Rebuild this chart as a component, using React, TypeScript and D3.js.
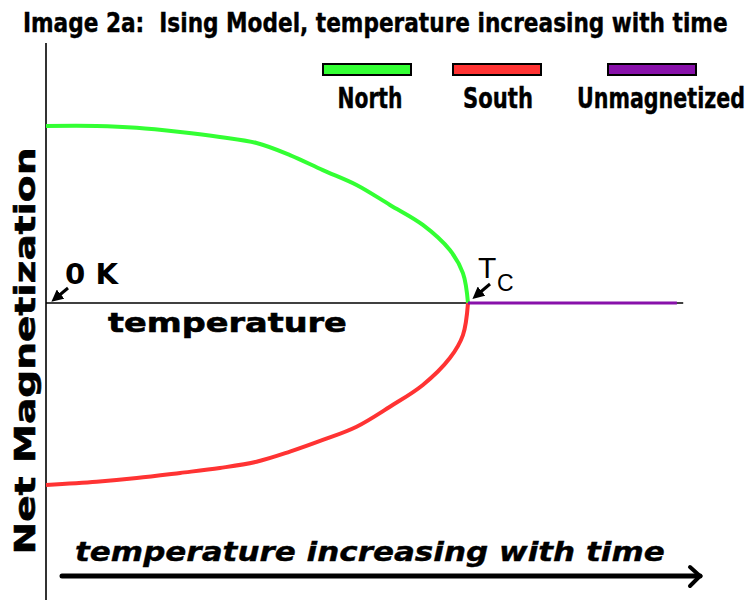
import React, { useLayoutEffect, useRef, useState } from "react";
import * as d3 from "d3";

const northTemps = [0, 0.12, 0.215, 0.318, 0.412, 0.499, 0.578, 0.656, 0.736, 0.815, 0.893, 0.957, 0.988, 1.0];
const northMag = [1.0, 1.0, 0.99, 0.966, 0.938, 0.904, 0.836, 0.751, 0.667, 0.554, 0.441, 0.299, 0.169, 0.0];
const southTemps = [0, 0.12, 0.215, 0.318, 0.412, 0.499, 0.578, 0.656, 0.736, 0.815, 0.893, 0.957, 0.988, 1.0];
const southMag = [-1.028, -1.01, -0.989, -0.96, -0.932, -0.897, -0.84, -0.774, -0.699, -0.586, -0.463, -0.311, -0.181, 0.0];
const unmagTemps = [1.0, 1.495];
const unmagMag = [0, 0];

const seriesNames = ["North", "South", "Unmagnetized"];
const seriesColors = ["#33ff33", "#ff3333", "#8811aa"];

type FitProps = {
  x: number;
  y: number;
  width: number;
  anchor?: "start" | "middle";
  rotate?: number;
  children: string;
  [k: string]: any;
};

function FitText({ x, y, width, anchor = "start", rotate = 0, children, ...rest }: FitProps) {
  const ref = useRef<SVGTextElement>(null);
  const [sx, setSx] = useState(1);
  useLayoutEffect(() => {
    if (ref.current) {
      const w = ref.current.getComputedTextLength();
      if (w > 0) setSx(width / w);
    }
  }, [width, children]);
  return (
    <g transform={`translate(${x},${y}) rotate(${rotate}) scale(${sx},1)`}>
      <text ref={ref} x={0} y={0} textAnchor={anchor} fill="#000" {...rest}>
        {children}
      </text>
    </g>
  );
}

export default function App() {
  const x = d3.scaleLinear().domain([0, 1]).range([46, 468]);
  const y = d3.scaleLinear().domain([0, 1]).range([303, 126]);
  const line = d3
    .line<[number, number]>()
    .x((d) => x(d[0]))
    .y((d) => y(d[1]))
    .curve(d3.curveCatmullRom.alpha(0.5));
  const north = northTemps.map((t, i) => [t, northMag[i]] as [number, number]);
  const south = southTemps.map((t, i) => [t, southMag[i]] as [number, number]);
  const unmag = unmagTemps.map((t, i) => [t, unmagMag[i]] as [number, number]);

  const swatchX = [323, 453, 608];
  const labelX = [370, 498, 661];
  const labelLen = [65, 70, 168];

  const boldFont = "'DejaVu Sans', Verdana, sans-serif";
  const narrow = "'DejaVu Sans Condensed', 'Liberation Sans Narrow', 'Liberation Sans', Arial, sans-serif";

  return (
    <svg width={754} height={600} style={{ position: "absolute", left: 0, top: 0, background: "#fff" }}>
      <defs>
        <marker id="ah" viewBox="0 0 10 10" refX="5" refY="5" markerWidth="4" markerHeight="4" orient="auto-start-reverse">
          <path d="M0,0 L10,5 L0,10 z" fill="#000" />
        </marker>
      </defs>
      <rect x={0} y={0} width={754} height={600} fill="#fff" />
      {/* Title */}
      <FitText x={23} y={32} width={705} fontFamily={narrow} fontWeight="bold" fontSize={27} stroke="#000" strokeWidth={0.4} style={{ whiteSpace: "pre" }}>
        {"Image 2a:  Ising Model, temperature increasing with time"}
      </FitText>

      {/* Legend */}
      {seriesNames.map((n, i) => (
        <g key={n}>
          <rect x={swatchX[i]} y={64} width={88} height={11} fill={seriesColors[i]} stroke="#000" strokeWidth={2} />
          <FitText x={labelX[i]} y={108} width={labelLen[i]} anchor="middle" fontFamily={narrow} fontWeight="bold" fontSize={28} stroke="#000" strokeWidth={0.4}>
            {n}
          </FitText>
        </g>
      ))}

      {/* Axes */}
      <line x1={46} y1={43} x2={46} y2={600} stroke="#333" strokeWidth={2} />
      <line x1={46} y1={y(0)} x2={x(1.51)} y2={y(0)} stroke="#000" strokeWidth={1.5} />

      {/* Curves */}
      <path d={line(north) || ""} fill="none" stroke={seriesColors[0]} strokeWidth={4} />
      <path d={line(south) || ""} fill="none" stroke={seriesColors[1]} strokeWidth={4} />
      <path d={line(unmag) || ""} fill="none" stroke={seriesColors[2]} strokeWidth={3} />

      {/* 0 K annotation */}
      <FitText x={65} y={284} width={53} fontFamily={boldFont} fontWeight="bold" fontSize={29}>
        0 K
      </FitText>
      <line x1={68} y1={288} x2={56} y2={298} stroke="#000" strokeWidth={3} markerEnd="url(#ah)" />

      {/* Tc annotation */}
      <text x={478} y={278} fontFamily="'Liberation Sans', Arial, sans-serif" fontSize={30} fill="#000">T</text>
      <text x={497} y={291} fontFamily="'Liberation Sans', Arial, sans-serif" fontSize={23} fill="#000">C</text>
      <line x1={490} y1={284} x2={477} y2={295} stroke="#000" strokeWidth={3} markerEnd="url(#ah)" />

      {/* temperature label */}
      <FitText x={108} y={332} width={239} fontFamily={boldFont} fontWeight="bold" fontSize={27} stroke="#000" strokeWidth={0.6}>
        temperature
      </FitText>

      {/* Y label */}
      <FitText x={35} y={351} width={407} rotate={-90} anchor="middle" fontFamily={boldFont} fontWeight="bold" fontSize={29} stroke="#000" strokeWidth={0.6}>
        Net Magnetization
      </FitText>

      {/* bottom label and arrow */}
      <FitText x={75} y={561} width={590} fontFamily={boldFont} fontWeight="bold" fontStyle="italic" fontSize={27} stroke="#000" strokeWidth={0.4}>
        temperature increasing with time
      </FitText>
      <line x1={62} y1={576} x2={700} y2={576} stroke="#000" strokeWidth={5} strokeLinecap="round" />
      <polyline points="690,567 700,576 690,586" fill="none" stroke="#000" strokeWidth={4} strokeLinecap="round" strokeLinejoin="miter" />
    </svg>
  );
}
